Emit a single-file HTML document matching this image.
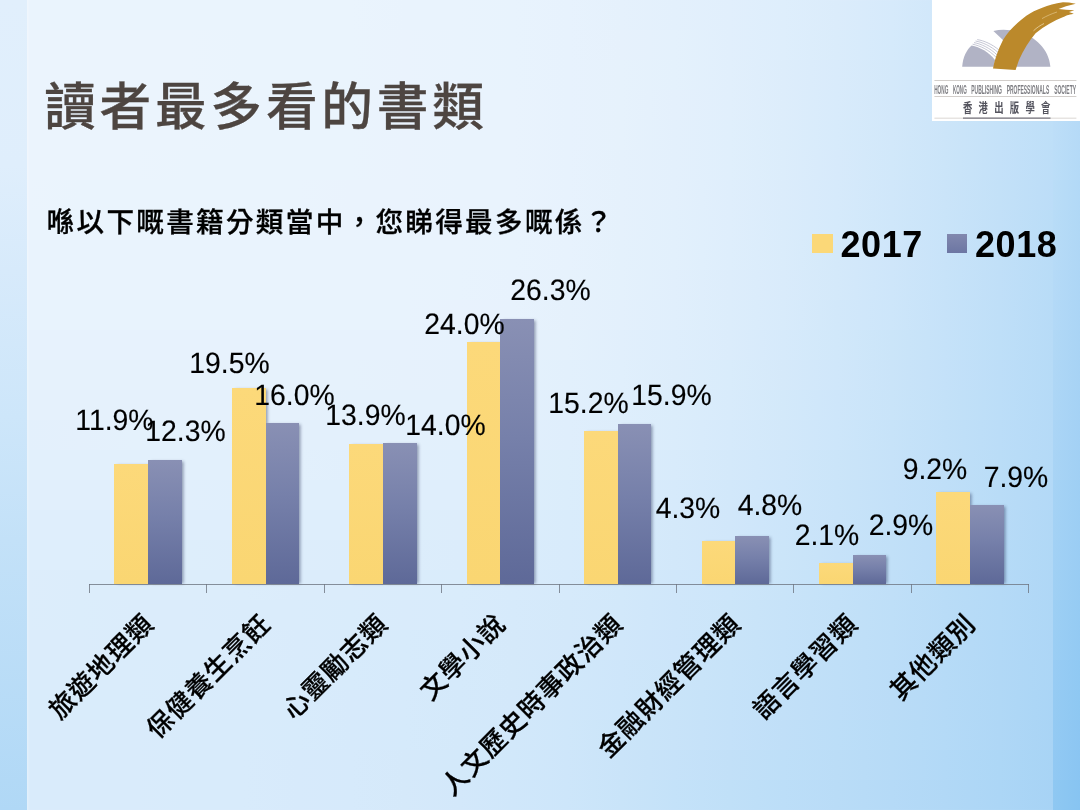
<!DOCTYPE html>
<html lang="zh-Hant">
<head>
<meta charset="utf-8">
<title>讀者最多看的書類</title>
<style>
html,body{margin:0;padding:0;}
body{width:1080px;height:810px;overflow:hidden;position:relative;
  font-family:"Liberation Sans","Noto Sans CJK TC","Noto Sans CJK HK",sans-serif;
  background:#cfe4f9;}
.bl{position:absolute;left:0;top:0;width:26.5px;height:810px;background:linear-gradient(180deg,#e1effc 0px,#dfeefc 165px,#d7eafb 270px,#cde6fa 417px,#c3e1f8 540px,#b0d8f6 810px);}
.br{position:absolute;left:1053px;top:0;width:27px;height:810px;background:linear-gradient(90deg,#c1e0f8,#b9dcf7) 0 0px/100% 30px no-repeat,
  linear-gradient(90deg,#c0e0f8,#b8dcf7) 0 30px/100% 30px no-repeat,
  linear-gradient(90deg,#bfdff8,#b7dbf7) 0 60px/100% 30px no-repeat,
  linear-gradient(90deg,#bedff8,#b6dbf7) 0 90px/100% 30px no-repeat,
  linear-gradient(90deg,#bddef8,#b5daf7) 0 120px/100% 30px no-repeat,
  linear-gradient(90deg,#bcdef8,#b4daf7) 0 150px/100% 30px no-repeat,
  linear-gradient(90deg,#baddf7,#b2d9f7) 0 180px/100% 30px no-repeat,
  linear-gradient(90deg,#b8dcf7,#b0d8f6) 0 210px/100% 30px no-repeat,
  linear-gradient(90deg,#b7dbf7,#afd7f6) 0 240px/100% 30px no-repeat,
  linear-gradient(90deg,#b5daf7,#add6f6) 0 270px/100% 30px no-repeat,
  linear-gradient(90deg,#b3d9f7,#abd5f6) 0 300px/100% 30px no-repeat,
  linear-gradient(90deg,#b1d8f6,#a9d4f5) 0 330px/100% 30px no-repeat,
  linear-gradient(90deg,#afd7f6,#a7d3f5) 0 360px/100% 30px no-repeat,
  linear-gradient(90deg,#add6f6,#a5d2f5) 0 390px/100% 30px no-repeat,
  linear-gradient(90deg,#abd5f6,#a3d1f5) 0 420px/100% 30px no-repeat,
  linear-gradient(90deg,#a9d4f5,#a1d0f4) 0 450px/100% 30px no-repeat,
  linear-gradient(90deg,#a6d3f5,#9ecff4) 0 480px/100% 30px no-repeat,
  linear-gradient(90deg,#a4d2f5,#9ccef4) 0 510px/100% 30px no-repeat,
  linear-gradient(90deg,#a2d1f5,#9acdf4) 0 540px/100% 30px no-repeat,
  linear-gradient(90deg,#a0d0f4,#98ccf3) 0 570px/100% 30px no-repeat,
  linear-gradient(90deg,#9dcff4,#95cbf3) 0 600px/100% 30px no-repeat,
  linear-gradient(90deg,#9bcef4,#93caf3) 0 630px/100% 30px no-repeat,
  linear-gradient(90deg,#98ccf4,#90c9f3) 0 660px/100% 30px no-repeat,
  linear-gradient(90deg,#96cbf3,#8ec8f2) 0 690px/100% 30px no-repeat,
  linear-gradient(90deg,#94caf3,#8cc6f2) 0 720px/100% 30px no-repeat,
  linear-gradient(90deg,#92c9f3,#8ac5f2) 0 750px/100% 30px no-repeat,
  linear-gradient(90deg,#8fc8f2,#87c4f2) 0 780px/100% 30px no-repeat;}
.panel{position:absolute;left:26.5px;top:0;width:1026.5px;height:810px;box-shadow:inset 2.5px 0 2.5px -1px rgba(255,255,255,.3);background:linear-gradient(90deg,#eaf4fd 0px,#eaf4fd 54.03px,#eaf4fd 108.05px,#eaf4fd 162.08px,#eaf4fd 216.11px,#eaf4fd 270.13px,#eaf4fd 324.16px,#e9f3fd 378.18px,#e9f3fd 432.21px,#e8f3fd 486.24px,#e7f2fd 540.26px,#e5f1fc 594.29px,#e3f0fc 648.32px,#e1effc 702.34px,#deeefc 756.37px,#dbecfb 810.39px,#d6eafb 864.42px,#d0e7fa 918.45px,#c9e4f9 972.47px,#c1e0f8 1026.5px) 0 0px/100% 30px no-repeat,
  linear-gradient(90deg,#ebf4fd 0px,#ebf4fd 54.03px,#ebf4fd 108.05px,#ebf4fd 162.08px,#eaf4fd 216.11px,#eaf4fd 270.13px,#eaf4fd 324.16px,#eaf3fd 378.18px,#e9f3fd 432.21px,#e8f3fd 486.24px,#e7f2fd 540.26px,#e6f1fc 594.29px,#e4f1fc 648.32px,#e1effc 702.34px,#deeefc 756.37px,#daecfb 810.39px,#d5eafb 864.42px,#cfe7fa 918.45px,#c8e3f9 972.47px,#c0e0f8 1026.5px) 0 30px/100% 30px no-repeat,
  linear-gradient(90deg,#ebf4fd 0px,#ebf4fd 54.03px,#ebf4fd 108.05px,#ebf4fd 162.08px,#eaf4fd 216.11px,#eaf4fd 270.13px,#eaf4fd 324.16px,#eaf3fd 378.18px,#e9f3fd 432.21px,#e8f3fd 486.24px,#e7f2fd 540.26px,#e6f2fc 594.29px,#e4f1fc 648.32px,#e1effc 702.34px,#ddedfb 756.37px,#d9ebfb 810.39px,#d4e9fa 864.42px,#cee6fa 918.45px,#c7e3f9 972.47px,#c0dff8 1026.5px) 0 60px/100% 30px no-repeat,
  linear-gradient(90deg,#ebf4fd 0px,#ebf4fd 54.03px,#ebf4fd 108.05px,#ebf4fd 162.08px,#eaf4fd 216.11px,#eaf4fd 270.13px,#eaf4fd 324.16px,#eaf3fd 378.18px,#e9f3fd 432.21px,#e9f3fd 486.24px,#e7f2fd 540.26px,#e6f2fc 594.29px,#e4f0fc 648.32px,#e1effc 702.34px,#ddedfb 756.37px,#d8ebfb 810.39px,#d3e8fa 864.42px,#cde6fa 918.45px,#c6e2f9 972.47px,#bfdff8 1026.5px) 0 90px/100% 30px no-repeat,
  linear-gradient(90deg,#ebf4fd 0px,#ebf4fd 54.03px,#ebf4fd 108.05px,#ebf4fd 162.08px,#eaf4fd 216.11px,#eaf4fd 270.13px,#eaf4fd 324.16px,#eaf3fd 378.18px,#e9f3fd 432.21px,#e9f3fd 486.24px,#e7f2fd 540.26px,#e6f2fc 594.29px,#e3f0fc 648.32px,#e0effc 702.34px,#dcedfb 756.37px,#d7ebfb 810.39px,#d2e8fa 864.42px,#cce5f9 918.45px,#c5e2f9 972.47px,#bedff8 1026.5px) 0 120px/100% 30px no-repeat,
  linear-gradient(90deg,#ebf4fd 0px,#ebf4fd 54.03px,#ebf4fd 108.05px,#eaf4fd 162.08px,#eaf4fd 216.11px,#eaf4fd 270.13px,#eaf4fd 324.16px,#eaf3fd 378.18px,#e9f3fd 432.21px,#e9f3fd 486.24px,#e7f2fd 540.26px,#e5f1fc 594.29px,#e3f0fc 648.32px,#e0effc 702.34px,#dcedfb 756.37px,#d7eafb 810.39px,#d1e8fa 864.42px,#cbe5f9 918.45px,#c4e1f9 972.47px,#bddef8 1026.5px) 0 150px/100% 30px no-repeat,
  linear-gradient(90deg,#ebf4fd 0px,#eaf4fd 54.03px,#eaf4fd 108.05px,#eaf4fd 162.08px,#eaf4fd 216.11px,#eaf4fd 270.13px,#eaf3fd 324.16px,#eaf3fd 378.18px,#e9f3fd 432.21px,#e9f3fd 486.24px,#e7f2fd 540.26px,#e5f1fc 594.29px,#e3f0fc 648.32px,#dfeefc 702.34px,#dbecfb 756.37px,#d6eafb 810.39px,#d0e7fa 864.42px,#cae4f9 918.45px,#c3e1f8 972.47px,#bcddf8 1026.5px) 0 180px/100% 30px no-repeat,
  linear-gradient(90deg,#eaf4fd 0px,#eaf4fd 54.03px,#eaf4fd 108.05px,#eaf4fd 162.08px,#eaf3fd 216.11px,#eaf3fd 270.13px,#eaf3fd 324.16px,#e9f3fd 378.18px,#e9f3fd 432.21px,#e8f3fd 486.24px,#e7f2fd 540.26px,#e5f1fc 594.29px,#e2f0fc 648.32px,#dfeefc 702.34px,#daecfb 756.37px,#d5eafb 810.39px,#cfe7fa 864.42px,#c9e4f9 918.45px,#c2e0f8 972.47px,#baddf7 1026.5px) 0 210px/100% 30px no-repeat,
  linear-gradient(90deg,#e9f3fd 0px,#e9f3fd 54.03px,#e9f3fd 108.05px,#e9f3fd 162.08px,#e9f3fd 216.11px,#e9f3fd 270.13px,#e9f3fd 324.16px,#e9f3fd 378.18px,#e9f3fd 432.21px,#e8f3fd 486.24px,#e7f2fd 540.26px,#e4f1fc 594.29px,#e2f0fc 648.32px,#deeefc 702.34px,#daecfb 756.37px,#d4e9fa 810.39px,#cfe6fa 864.42px,#c8e3f9 918.45px,#c1e0f8 972.47px,#b9dcf7 1026.5px) 0 240px/100% 30px no-repeat,
  linear-gradient(90deg,#e9f3fd 0px,#e9f3fd 54.03px,#e9f3fd 108.05px,#e9f3fd 162.08px,#e9f3fd 216.11px,#e9f3fd 270.13px,#e9f3fd 324.16px,#e9f3fd 378.18px,#e8f3fd 432.21px,#e7f2fd 486.24px,#e6f2fc 540.26px,#e4f1fc 594.29px,#e1effc 648.32px,#ddedfb 702.34px,#d9ebfb 756.37px,#d4e9fa 810.39px,#cee6fa 864.42px,#c7e3f9 918.45px,#c0dff8 972.47px,#b8dcf7 1026.5px) 0 270px/100% 30px no-repeat,
  linear-gradient(90deg,#e8f3fd 0px,#e8f3fd 54.03px,#e8f3fd 108.05px,#e8f3fd 162.08px,#e8f3fd 216.11px,#e8f3fd 270.13px,#e8f3fd 324.16px,#e8f3fd 378.18px,#e8f2fd 432.21px,#e7f2fd 486.24px,#e5f1fc 540.26px,#e3f0fc 594.29px,#e0effc 648.32px,#dcedfb 702.34px,#d8ebfb 756.37px,#d2e8fa 810.39px,#cde6fa 864.42px,#c6e2f9 918.45px,#bfdff8 972.47px,#b7dbf7 1026.5px) 0 300px/100% 30px no-repeat,
  linear-gradient(90deg,#e7f2fd 0px,#e7f2fd 54.03px,#e7f2fd 108.05px,#e7f2fd 162.08px,#e7f2fd 216.11px,#e7f2fd 270.13px,#e7f2fd 324.16px,#e7f2fd 378.18px,#e6f2fd 432.21px,#e5f1fc 486.24px,#e4f1fc 540.26px,#e1effc 594.29px,#deeefc 648.32px,#dbecfb 702.34px,#d6eafb 756.37px,#d1e8fa 810.39px,#cbe5f9 864.42px,#c5e2f9 918.45px,#bedff8 972.47px,#b7dbf7 1026.5px) 0 330px/100% 30px no-repeat,
  linear-gradient(90deg,#e6f2fc 0px,#e6f2fc 54.03px,#e6f2fc 108.05px,#e6f2fc 162.08px,#e6f2fc 216.11px,#e6f2fc 270.13px,#e6f2fc 324.16px,#e6f1fc 378.18px,#e5f1fc 432.21px,#e4f1fc 486.24px,#e2f0fc 540.26px,#e0effc 594.29px,#ddedfb 648.32px,#d9ecfb 702.34px,#d5e9fa 756.37px,#d0e7fa 810.39px,#cae4f9 864.42px,#c4e1f9 918.45px,#bddef8 972.47px,#b6dbf7 1026.5px) 0 360px/100% 30px no-repeat,
  linear-gradient(90deg,#e5f1fc 0px,#e5f1fc 54.03px,#e5f1fc 108.05px,#e5f1fc 162.08px,#e5f1fc 216.11px,#e5f1fc 270.13px,#e4f1fc 324.16px,#e4f1fc 378.18px,#e4f1fc 432.21px,#e3f0fc 486.24px,#e1effc 540.26px,#deeefc 594.29px,#dbedfb 648.32px,#d8ebfb 702.34px,#d3e9fa 756.37px,#cee6fa 810.39px,#c9e4f9 864.42px,#c3e1f8 918.45px,#bcdef8 972.47px,#b5daf7 1026.5px) 0 390px/100% 30px no-repeat,
  linear-gradient(90deg,#e3f0fc 0px,#e4f0fc 54.03px,#e4f1fc 108.05px,#e4f1fc 162.08px,#e3f0fc 216.11px,#e3f0fc 270.13px,#e3f0fc 324.16px,#e3f0fc 378.18px,#e2f0fc 432.21px,#e1effc 486.24px,#dfeefc 540.26px,#ddedfb 594.29px,#daecfb 648.32px,#d6eafb 702.34px,#d2e8fa 756.37px,#cde6fa 810.39px,#c7e3f9 864.42px,#c1e0f8 918.45px,#bbddf8 972.47px,#b5daf7 1026.5px) 0 420px/100% 30px no-repeat,
  linear-gradient(90deg,#e2f0fc 0px,#e2f0fc 54.03px,#e2f0fc 108.05px,#e2f0fc 162.08px,#e2f0fc 216.11px,#e2f0fc 270.13px,#e1effc 324.16px,#e1effc 378.18px,#e0effc 432.21px,#dfeefc 486.24px,#ddeefb 540.26px,#dbecfb 594.29px,#d8ebfb 648.32px,#d4e9fa 702.34px,#d0e7fa 756.37px,#cbe5f9 810.39px,#c6e2f9 864.42px,#c0dff8 918.45px,#baddf7 972.47px,#b4daf7 1026.5px) 0 450px/100% 30px no-repeat,
  linear-gradient(90deg,#e1effc 0px,#e1effc 54.03px,#e1effc 108.05px,#e1effc 162.08px,#e0effc 216.11px,#e0effc 270.13px,#e0effc 324.16px,#dfeefc 378.18px,#dfeefc 432.21px,#ddeefb 486.24px,#dbedfb 540.26px,#d9ebfb 594.29px,#d6eafb 648.32px,#d2e8fa 702.34px,#cee6fa 756.37px,#c9e4f9 810.39px,#c4e1f9 864.42px,#bfdff8 918.45px,#b9dcf7 972.47px,#b3d9f7 1026.5px) 0 480px/100% 30px no-repeat,
  linear-gradient(90deg,#dfeefc 0px,#dfeefc 54.03px,#dfeefc 108.05px,#dfeefc 162.08px,#dfeefc 216.11px,#deeefc 270.13px,#deeefc 324.16px,#ddeefb 378.18px,#ddedfb 432.21px,#dbedfb 486.24px,#d9ecfb 540.26px,#d7ebfb 594.29px,#d4e9fa 648.32px,#d1e7fa 702.34px,#cce5fa 756.37px,#c8e3f9 810.39px,#c3e1f8 864.42px,#bddef8 918.45px,#b8dbf7 972.47px,#b1d8f6 1026.5px) 0 510px/100% 30px no-repeat,
  linear-gradient(90deg,#deeefc 0px,#deeefc 54.03px,#deeefb 108.05px,#ddeefb 162.08px,#ddedfb 216.11px,#ddedfb 270.13px,#dcedfb 324.16px,#dcedfb 378.18px,#dbecfb 432.21px,#d9ecfb 486.24px,#d8ebfb 540.26px,#d5eafb 594.29px,#d2e8fa 648.32px,#cfe6fa 702.34px,#cbe5f9 756.37px,#c6e2f9 810.39px,#c1e0f8 864.42px,#bcddf8 918.45px,#b6dbf7 972.47px,#b0d8f6 1026.5px) 0 540px/100% 30px no-repeat,
  linear-gradient(90deg,#ddedfb 0px,#dcedfb 54.03px,#dcedfb 108.05px,#dcedfb 162.08px,#dcedfb 216.11px,#dbecfb 270.13px,#dbecfb 324.16px,#daecfb 378.18px,#d9ecfb 432.21px,#d8ebfb 486.24px,#d6eafb 540.26px,#d3e9fa 594.29px,#d0e7fa 648.32px,#cde6fa 702.34px,#c9e4f9 756.37px,#c4e2f9 810.39px,#c0dff8 864.42px,#baddf7 918.45px,#b5daf7 972.47px,#afd7f6 1026.5px) 0 570px/100% 30px no-repeat,
  linear-gradient(90deg,#dcedfb 0px,#dbedfb 54.03px,#dbecfb 108.05px,#dbecfb 162.08px,#daecfb 216.11px,#daecfb 270.13px,#d9ecfb 324.16px,#d9ebfb 378.18px,#d8ebfb 432.21px,#d6eafb 486.24px,#d4e9fa 540.26px,#d2e8fa 594.29px,#cee6fa 648.32px,#cbe5f9 702.34px,#c7e3f9 756.37px,#c3e1f8 810.39px,#bedff8 864.42px,#b9dcf7 918.45px,#b4daf7 972.47px,#aed7f6 1026.5px) 0 600px/100% 30px no-repeat,
  linear-gradient(90deg,#dbecfb 0px,#dbecfb 54.03px,#daecfb 108.05px,#daecfb 162.08px,#daecfb 216.11px,#d9ebfb 270.13px,#d8ebfb 324.16px,#d7ebfb 378.18px,#d6eafb 432.21px,#d5e9fa 486.24px,#d3e8fa 540.26px,#d0e7fa 594.29px,#cde5fa 648.32px,#c9e4f9 702.34px,#c5e2f9 756.37px,#c1e0f8 810.39px,#bddef8 864.42px,#b8dbf7 918.45px,#b2d9f7 972.47px,#add6f6 1026.5px) 0 630px/100% 30px no-repeat,
  linear-gradient(90deg,#daecfb 0px,#daecfb 54.03px,#daecfb 108.05px,#d9ecfb 162.08px,#d9ebfb 216.11px,#d8ebfb 270.13px,#d7ebfb 324.16px,#d6eafb 378.18px,#d5eafb 432.21px,#d4e9fa 486.24px,#d1e8fa 540.26px,#cee6fa 594.29px,#cbe5f9 648.32px,#c7e3f9 702.34px,#c3e1f8 756.37px,#bfdff8 810.39px,#bbddf8 864.42px,#b6dbf7 918.45px,#b1d8f6 972.47px,#acd6f6 1026.5px) 0 660px/100% 30px no-repeat,
  linear-gradient(90deg,#d9ecfb 0px,#d9ecfb 54.03px,#d9ecfb 108.05px,#d9ebfb 162.08px,#d8ebfb 216.11px,#d8ebfb 270.13px,#d7eafb 324.16px,#d6eafb 378.18px,#d4e9fa 432.21px,#d3e8fa 486.24px,#d0e7fa 540.26px,#cde6fa 594.29px,#c9e4f9 648.32px,#c5e2f9 702.34px,#c2e0f8 756.37px,#bedef8 810.39px,#badcf7 864.42px,#b5daf7 918.45px,#b0d8f6 972.47px,#aad5f6 1026.5px) 0 690px/100% 30px no-repeat,
  linear-gradient(90deg,#d9ebfb 0px,#d9ebfb 54.03px,#d9ebfb 108.05px,#d8ebfb 162.08px,#d8ebfb 216.11px,#d7ebfb 270.13px,#d6eafb 324.16px,#d5eafb 378.18px,#d4e9fa 432.21px,#d2e8fa 486.24px,#cfe7fa 540.26px,#cbe5f9 594.29px,#c8e3f9 648.32px,#c4e1f9 702.34px,#c0dff8 756.37px,#bcdef8 810.39px,#b8dcf7 864.42px,#b4daf7 918.45px,#afd7f6 972.47px,#a9d4f5 1026.5px) 0 720px/100% 30px no-repeat,
  linear-gradient(90deg,#d9ebfb 0px,#d9ebfb 54.03px,#d9ebfb 108.05px,#d8ebfb 162.08px,#d8ebfb 216.11px,#d7eafb 270.13px,#d6eafb 324.16px,#d5e9fa 378.18px,#d3e9fa 432.21px,#d1e8fa 486.24px,#cee6fa 540.26px,#cae4f9 594.29px,#c6e2f9 648.32px,#c2e0f8 702.34px,#bedff8 756.37px,#bbddf7 810.39px,#b7dbf7 864.42px,#b2d9f7 918.45px,#add7f6 972.47px,#a8d4f5 1026.5px) 0 750px/100% 30px no-repeat,
  linear-gradient(90deg,#d9ebfb 0px,#d9ebfb 54.03px,#d9ebfb 108.05px,#d8ebfb 162.08px,#d8ebfb 216.11px,#d7eafb 270.13px,#d6eafb 324.16px,#d5e9fa 378.18px,#d3e8fa 432.21px,#d0e7fa 486.24px,#cde6fa 540.26px,#c9e4f9 594.29px,#c4e2f9 648.32px,#c0e0f8 702.34px,#bcdef8 756.37px,#b9dcf7 810.39px,#b5daf7 864.42px,#b1d8f6 918.45px,#acd6f6 972.47px,#a7d3f5 1026.5px) 0 780px/100% 30px no-repeat;}
.title{position:absolute;left:44.2px;top:67.2px;margin:0;font-size:51.7px;line-height:80px;font-weight:500;color:#4d4541;-webkit-text-stroke:0.3px #4d4541;white-space:nowrap;letter-spacing:3.75px;}
.sub{position:absolute;left:46.6px;top:200.8px;margin:0;font-size:27.6px;line-height:44px;font-weight:500;-webkit-text-stroke:0.3px #000;color:#000;white-space:nowrap;letter-spacing:2.3px;}
.legend{position:absolute;left:0;top:0;}
.sw{position:absolute;width:20.5px;height:19.5px;top:233.5px;}
.lt{position:absolute;font-size:36px;line-height:40px;font-weight:700;color:#000;top:225px;white-space:nowrap;letter-spacing:.6px;}
.bar{position:absolute;box-shadow:2px 0 3px -0.5px rgba(30,40,80,.45);}
.y{background:linear-gradient(180deg,#fcd97a 0%,#fad672 100%);}
.b{background:linear-gradient(180deg,#8990b4 0%,#7680aa 45%,#5e6998 100%);}
.axis{position:absolute;background:rgba(110,118,130,.8);}
.dl{position:absolute;font-size:29.5px;line-height:32px;color:#000;white-space:nowrap;transform-origin:100% 50%;text-rendering:geometricPrecision;-webkit-text-stroke:0.15px #000;transform:scaleX(.96);}
.cl{position:absolute;font-size:26px;line-height:30px;height:30px;font-weight:500;-webkit-text-stroke:0.25px #000;letter-spacing:1px;color:#000;white-space:nowrap;transform-origin:100% 50%;transform:rotate(-45deg);}
.logo{position:absolute;left:932px;top:0;}
</style>
</head>
<body>
<div class="bl"></div><div class="br"></div><div class="panel"></div>
<svg class="logo" width="148" height="121" viewBox="0 0 148 121">
<rect x="0" y="0" width="148" height="121.2" fill="#fff"/>
<path d="M30.2 66.7 C30.8 57.5 34.5 50 39.6 45.6 C48 47.3 56.5 52 63 60 L62 66.7 Z" fill="#b1b3c5"/>
<g fill="none" stroke="#b1b3c5" stroke-width="0.75">
<path d="M40.6 44.2 C48.5 45.8 57 50 64 57.2"/>
<path d="M42 42.6 C49.5 44 58 48.2 65 54.8"/>
<path d="M43.5 41 C50.5 42.2 59 46.2 66 52.4"/>
<path d="M45.2 39.6 C52 40.6 60 44.2 67 50"/>
</g>
<path d="M61.4 31 Q72 28.4 86 31.6 C103.5 36.5 117 49.5 118.4 66.7 L80 66.7 L72 41 Z" fill="#b1b3c5"/>
<path d="M61 68.5 C62.5 60 66 50 71.1 39.8 C77 30 85 23 94.3 15.7 C104 9.5 115 5 131 2.3 L137 2.6 L143.8 3.8 L134 6.2 L126.5 8.9 L134 9.8 L142.4 10.2 L137 12 L141.8 13.8 C136 14.8 133.5 16 131.3 17.1 C122 20.8 112.8 25.9 103.6 33.3 C97 40.7 91.5 50 86.9 60.2 L83.6 69.9 Z" fill="#bb892b"/>
<path d="M101.5 30.8 C105 27.5 108 25.5 112 23.5" fill="none" stroke="#f0dfb8" stroke-width="0.7"/>
<path d="M110 18.6 C115 15.8 119 14 125 12" fill="none" stroke="#e8cf98" stroke-width="0.6"/>
<rect x="2.4" y="80.4" width="142" height="0.6" fill="#b4aea8"/>
<text y="94" font-family="'Liberation Sans',sans-serif" font-size="13.4" font-weight="700" fill="#7d7d82"><tspan x="2.2" textLength="14.1" lengthAdjust="spacingAndGlyphs">HONG</tspan> <tspan x="21" textLength="13.7" lengthAdjust="spacingAndGlyphs">KONG</tspan> <tspan x="39.3" textLength="30.7" lengthAdjust="spacingAndGlyphs">PUBLISHING</tspan> <tspan x="74.7" textLength="42.5" lengthAdjust="spacingAndGlyphs">PROFESSIONALS</tspan> <tspan x="122.2" textLength="21.8" lengthAdjust="spacingAndGlyphs">SOCIETY</tspan></text>
<rect x="2.4" y="96.4" width="142" height="0.6" fill="#b4aea8"/>
<text transform="translate(31 112.3) scale(0.72 1)" x="0 21.7 43.4 65.1 86.8 108.5" y="0" font-family="'Liberation Sans','Noto Sans CJK TC',sans-serif" font-size="13" font-weight="700" fill="#54545e">香港出版學會</text>
<rect x="2.4" y="117.8" width="142" height="0.6" fill="#c2bcb6"/>
<rect x="31" y="117.6" width="87.5" height="1" fill="#5a5a66"/>
</svg>
<h1 class="title">讀者最多看的書類</h1>
<p class="sub">喺以下嘅書籍分類當中，您睇得最多嘅係？</p>
<div class="sw" style="left:812px;background:#fbd878"></div><div class="lt" style="left:840.4px">2017</div>
<div class="sw" style="left:946.5px;background:linear-gradient(180deg,#8188ae,#6c76a3)"></div><div class="lt" style="left:975px">2018</div>
<div class="bar y" style="left:114.4px;top:464.3px;width:33.7px;height:119.95px"></div><div class="bar b" style="left:148.1px;top:460.27px;width:33.7px;height:123.98px"></div>
<div class="bar y" style="left:231.82px;top:387.69px;width:33.7px;height:196.56px"></div><div class="bar b" style="left:265.52px;top:422.97px;width:33.7px;height:161.28px"></div>
<div class="bar y" style="left:349.24px;top:444.14px;width:33.7px;height:140.11px"></div><div class="bar b" style="left:382.94px;top:443.13px;width:33.7px;height:141.12px"></div>
<div class="bar y" style="left:466.66px;top:342.33px;width:33.7px;height:241.92px"></div><div class="bar b" style="left:500.36px;top:319.15px;width:33.7px;height:265.1px"></div>
<div class="bar y" style="left:584.08px;top:431.03px;width:33.7px;height:153.22px"></div><div class="bar b" style="left:617.78px;top:423.98px;width:33.7px;height:160.27px"></div>
<div class="bar y" style="left:701.5px;top:540.91px;width:33.7px;height:43.34px"></div><div class="bar b" style="left:735.2px;top:535.87px;width:33.7px;height:48.38px"></div>
<div class="bar y" style="left:818.92px;top:563.08px;width:33.7px;height:21.17px"></div><div class="bar b" style="left:852.62px;top:555.02px;width:33.7px;height:29.23px"></div>
<div class="bar y" style="left:936.34px;top:491.51px;width:33.7px;height:92.74px"></div><div class="bar b" style="left:970.04px;top:504.62px;width:33.7px;height:79.63px"></div>
<div class="axis" style="left:89.4px;top:584px;width:939.36px;height:1px"></div>
<div class="axis" style="left:88.9px;top:584px;width:1px;height:9px"></div><div class="axis" style="left:206.32px;top:584px;width:1px;height:9px"></div><div class="axis" style="left:323.74px;top:584px;width:1px;height:9px"></div><div class="axis" style="left:441.16px;top:584px;width:1px;height:9px"></div><div class="axis" style="left:558.58px;top:584px;width:1px;height:9px"></div><div class="axis" style="left:676px;top:584px;width:1px;height:9px"></div><div class="axis" style="left:793.42px;top:584px;width:1px;height:9px"></div><div class="axis" style="left:910.84px;top:584px;width:1px;height:9px"></div><div class="axis" style="left:1028.26px;top:584px;width:1px;height:9px"></div>
<div class="dl" style="right:926.8px;top:404.6px">11.9%</div>
<div class="dl" style="right:854.3px;top:415.85px">12.3%</div>
<div class="dl" style="right:810.55px;top:347.85px">19.5%</div>
<div class="dl" style="right:745.55px;top:380.1px">16.0%</div>
<div class="dl" style="right:674.8px;top:399.6px">13.9%</div>
<div class="dl" style="right:594.3px;top:410.1px">14.0%</div>
<div class="dl" style="right:575.55px;top:309.1px">24.0%</div>
<div class="dl" style="right:489.3px;top:275.1px">26.3%</div>
<div class="dl" style="right:451.8px;top:388.35px">15.2%</div>
<div class="dl" style="right:368.8px;top:379.6px">15.9%</div>
<div class="dl" style="right:359.8px;top:493.35px">4.3%</div>
<div class="dl" style="right:277.3px;top:490.1px">4.8%</div>
<div class="dl" style="right:220.55px;top:519.6px">2.1%</div>
<div class="dl" style="right:146.8px;top:510.1px">2.9%</div>
<div class="dl" style="right:113.05px;top:454.1px">9.2%</div>
<div class="dl" style="right:31.8px;top:461.6px">7.9%</div>
<div class="cl" style="right:931.39px;top:604px">旅遊地理類</div>
<div class="cl" style="right:813.97px;top:604px">保健養生烹飪</div>
<div class="cl" style="right:696.55px;top:604px">心靈勵志類</div>
<div class="cl" style="right:579.13px;top:604px">文學小說</div>
<div class="cl" style="right:461.71px;top:604px">人文歷史時事政治類</div>
<div class="cl" style="right:344.29px;top:604px">金融財經管理類</div>
<div class="cl" style="right:226.87px;top:604px">語言學習類</div>
<div class="cl" style="right:109.45px;top:604px">其他類別</div>
</body>
</html>
